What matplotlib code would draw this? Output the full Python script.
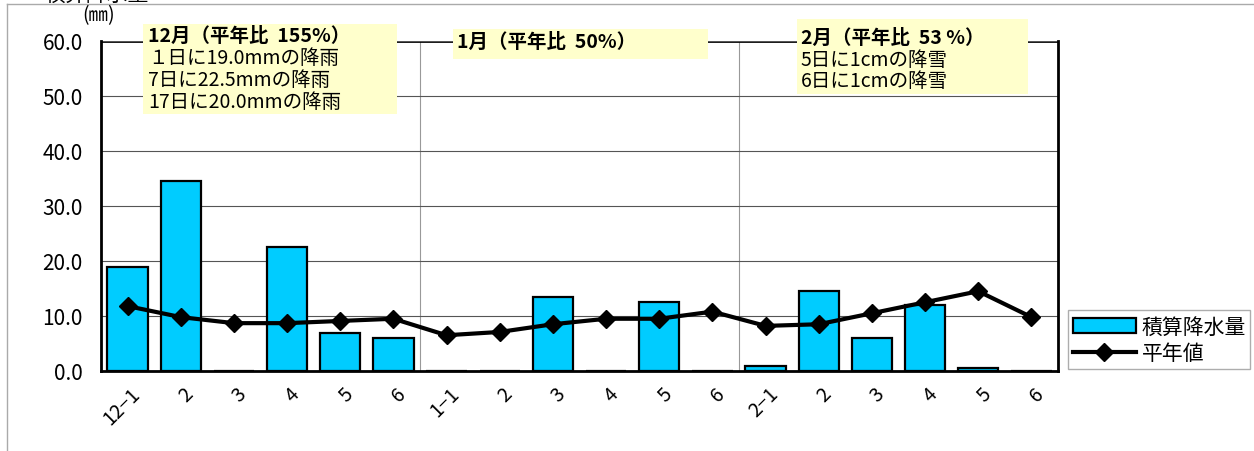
import matplotlib
matplotlib.use("Agg")
import matplotlib.pyplot as plt
from matplotlib.patches import Rectangle
from matplotlib.lines import Line2D
from matplotlib import transforms
import numpy as np

plt.rcParams['font.family'] = ['Noto Sans CJK JP', 'DejaVu Sans']

# data
labels = ["12−1", "2", "3", "4", "5", "6",
          "1−1", "2", "3", "4", "5", "6",
          "2−1", "2", "3", "4", "5", "6"]
rain = [19.0, 34.5, 0.0, 22.5, 7.0, 6.0,
        0.0, 0.0, 13.5, 0.0, 12.5, 0.0,
        1.0, 14.5, 6.0, 12.0, 0.5, 0.0]
normal = [11.8, 9.8, 8.7, 8.7, 9.1, 9.5,
          6.5, 7.1, 8.5, 9.5, 9.5, 10.8,
          8.2, 8.5, 10.5, 12.5, 14.5, 9.8]
month_bounds = [5.5, 11.5]

W, H = 1254, 452
fig = plt.figure(figsize=(W / 100, H / 100), dpi=100)
ax = fig.add_axes([101 / W, 1 - 372 / H, 957 / W, 330 / H])

x = np.arange(len(labels))
bars = ax.bar(x, rain, 0.76, color='#00CCFF', edgecolor='black', linewidth=1.6,
              label='積算降水量', zorder=3)
line, = ax.plot(x, normal, color='black', lw=3, marker='D', markersize=9,
                label='平年値', zorder=4)

ax.set_xlim(-0.5, len(labels) - 0.5)
ax.set_ylim(0, 60)
ax.set_yticks(np.arange(0, 61, 10))
ax.set_yticklabels(["%.1f" % v for v in np.arange(0, 61, 10)], fontsize=15)
ax.yaxis.grid(True, color='#555555', lw=0.8, zorder=0)
for b in month_bounds:
    ax.axvline(b, color='#999999', lw=0.8, zorder=0)
ax.axhline(60, color='black', lw=2, zorder=1)
for s in ['left', 'right', 'bottom']:
    ax.spines[s].set_linewidth(2)
ax.spines['top'].set_visible(False)
ax.tick_params(axis='y', length=0, pad=13)
ax.tick_params(axis='x', length=0, pad=0)

ax.set_xticks(x)
off = transforms.ScaledTranslation(7 / 72, -14 / 72, fig.dpi_scale_trans)
ax.set_xticklabels(labels, fontsize=14, rotation=45, ha='right', va='center',
                   rotation_mode='anchor')
for t in ax.get_xticklabels():
    t.set_transform(t.get_transform() + off)


def fx(px):
    return px / W


def fy(py):
    return 1 - py / H


fig.text(fx(82), fy(16), "(㎜)", fontsize=14, va='center', ha='left')

# note boxes
boxes = [(143, 25, 397, 115), (453, 30, 708, 60), (797, 20, 1028, 95)]
for x0, y0, x1, y1 in boxes:
    fig.patches.append(Rectangle((fx(x0), fy(y1)), fx(x1 - x0), (y1 - y0) / H,
                                 transform=fig.transFigure, facecolor='#FFFFCC',
                                 edgecolor='none', zorder=2))

fs = 14
fig.text(fx(148), fy(36), "12月（平年比  155%）", fontsize=fs, weight='bold', va='center', zorder=3)
fig.text(fx(148), fy(58), "１日に19.0mmの降雨", fontsize=fs, va='center', zorder=3)
fig.text(fx(148), fy(81), "7日に22.5mmの降雨", fontsize=fs, va='center', zorder=3)
fig.text(fx(148), fy(103), "17日に20.0mmの降雨", fontsize=fs, va='center', zorder=3)
fig.text(fx(457), fy(42), "1月（平年比  50%）", fontsize=fs, weight='bold', va='center', zorder=3)
fig.text(fx(801), fy(38), "2月（平年比  53 %）", fontsize=fs, weight='bold', va='center', zorder=3)
fig.text(fx(801), fy(60), "5日に1cmの降雪", fontsize=fs, va='center', zorder=3)
fig.text(fx(801), fy(82), "6日に1cmの降雪", fontsize=fs, va='center', zorder=3)

# cropped heading at the very top
fig.text(fx(45), fy(-5), "積算降水量", fontsize=15, va='center', ha='left')

# outer frame
fig.add_artist(Line2D([fx(7), fx(7)], [fy(5), 0], transform=fig.transFigure,
                      color='#aaaaaa', lw=1))
fig.add_artist(Line2D([fx(7), 1], [fy(5), fy(5)], transform=fig.transFigure,
                      color='#aaaaaa', lw=1))

leg = fig.legend([bars, line], ['積算降水量', '平年値'], loc='lower left',
                 bbox_to_anchor=(fx(1068), fy(370), fx(182), 58 / H),
                 mode='expand', fontsize=15, frameon=True, fancybox=False,
                 handlelength=3, borderaxespad=0, labelspacing=0.2,
                 handletextpad=0.3, borderpad=0.25)
leg.get_frame().set_edgecolor('#999999')
leg.get_frame().set_linewidth(1)

fig.savefig("out.png", dpi=100)
